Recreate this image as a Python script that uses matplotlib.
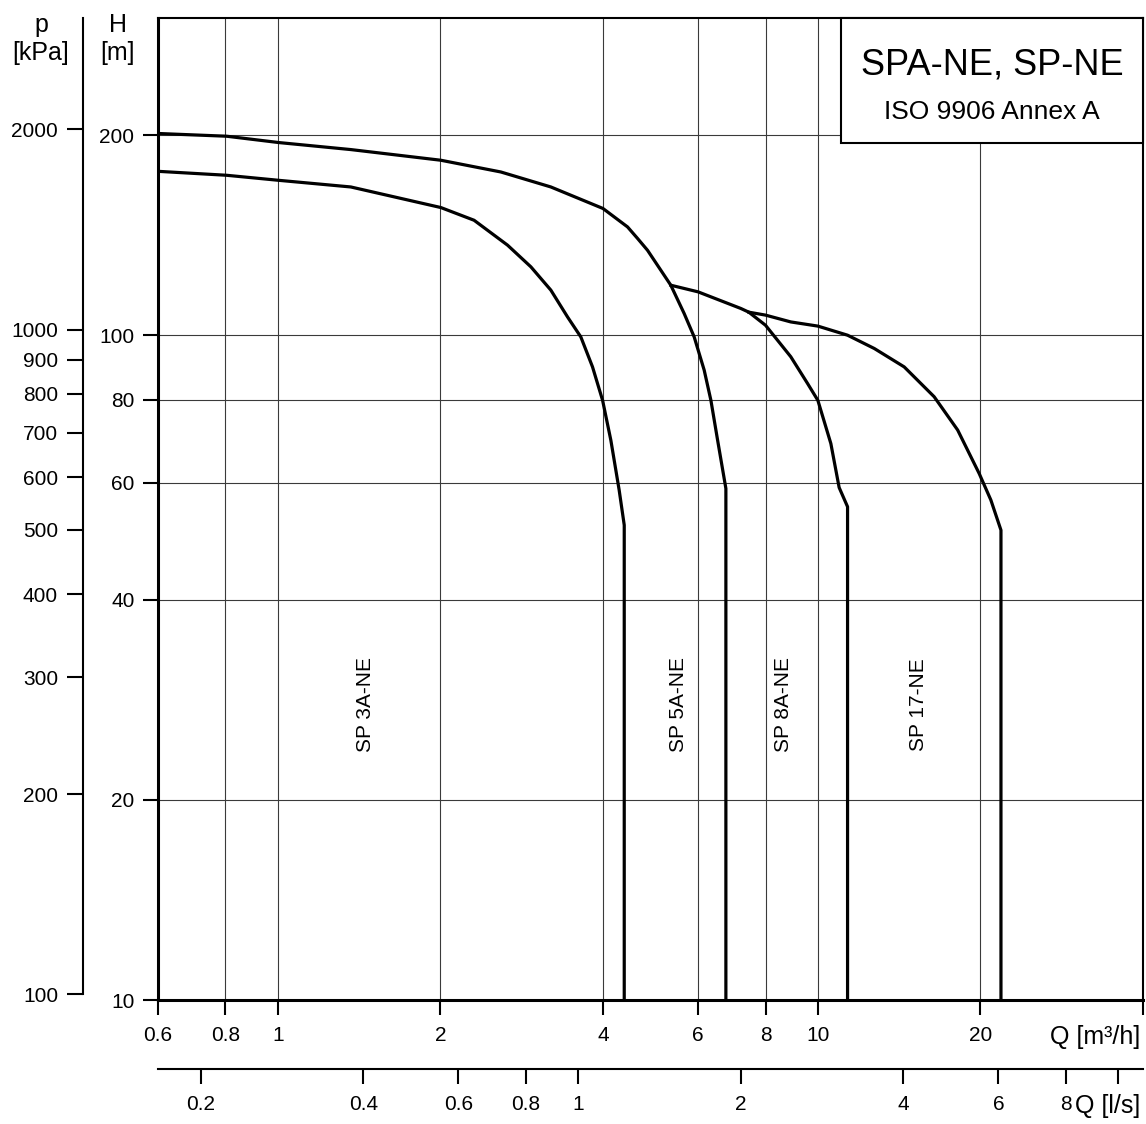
import numpy as np
import matplotlib.pyplot as plt
from matplotlib.patches import Rectangle
from matplotlib.ticker import NullLocator

plt.rcParams['font.family'] = ['Liberation Sans', 'DejaVu Sans']

# curvas: Q em m3/h, H em m
q_3a = [0.6, 0.804, 1.003, 1.365, 2.004, 2.309, 2.663, 2.942, 3.203, 3.44, 3.64, 3.826, 3.994, 4.137, 4.286, 4.38, 4.38]
h_3a = [176.4, 174.0, 171.0, 167.1, 155.6, 148.9, 136.6, 126.7, 116.9, 106.5, 99.4, 89.6, 79.8, 69.5, 58.5, 51.8, 10]

q_5a = [0.6, 0.804, 1.003, 1.365, 2.004, 2.588, 3.203, 4.0, 4.442, 4.636, 4.837, 5.342, 5.655, 5.902, 6.159, 6.338, 6.522, 6.756, 6.756]
h_5a = [201.1, 199.2, 194.9, 190.2, 183.3, 176.0, 167.1, 155.1, 145.5, 139.8, 134.2, 118.9, 107.8, 99.4, 88.6, 79.8, 69.5, 58.8, 10]

q_8a = [5.342, 6.0, 7.2, 7.45, 8.0, 8.91, 9.57, 10.0, 10.57, 10.95, 11.35, 11.35]
h_8a = [118.9, 116.2, 109.7, 108.3, 103.5, 92.8, 84.6, 79.8, 68.7, 59.0, 55.2, 10]

q_17 = [7.45, 8.0, 8.91, 10.0, 11.35, 12.72, 14.45, 16.42, 18.15, 19.9, 20.91, 21.83, 21.83]
h_17 = [108.3, 107.2, 104.7, 103.2, 100.0, 95.5, 89.6, 80.8, 72.0, 61.9, 56.5, 50.9, 10]

curvas = [(q_3a, h_3a), (q_5a, h_5a), (q_8a, h_8a), (q_17, h_17)]
nomes = ['SP 3A-NE', 'SP 5A-NE', 'SP 8A-NE', 'SP 17-NE']
pos_nomes_q = [1.456, 5.51, 8.64, 15.38]
pos_nomes_h = 27.8

# eixos
q_ticks = [0.6, 0.8, 1, 2, 4, 6, 8, 10, 20, 40]
q_labels = ['0.6', '0.8', '1', '2', '4', '6', '8', '10', '20', '']
h_ticks = [10, 20, 40, 60, 80, 100, 200]
p_ticks = [100, 200, 300, 400, 500, 600, 700, 800, 900, 1000, 2000]
ls_ticks = [0.2, 0.4, 0.6, 0.8, 1, 2, 4, 6, 8, 10]
ls_labels = ['0.2', '0.4', '0.6', '0.8', '1', '2', '4', '6', '8', '']
grid_q = [0.8, 1, 2, 4, 6, 8, 10, 20]
grid_h = [20, 40, 60, 80, 100, 200]

W, H = 1146, 1124
fig = plt.figure(figsize=(W / 100, H / 100), dpi=100)
ax = fig.add_axes([158 / W, 1 - 1000 / H, 985 / W, 982 / H])
ax.set_xscale('log')
ax.set_yscale('log')
ax.set_xlim(0.6, 40)
ax.set_ylim(10, 300)

for g in grid_q:
    ax.axvline(g, color='#3a3a3a', lw=0.8, zorder=1)
for g in grid_h:
    ax.axhline(g, color='#3a3a3a', lw=0.8, zorder=1)

for (q, h) in curvas:
    ax.plot(q, h, color='black', lw=2.3, solid_joinstyle='round', zorder=4)

for nome, qn in zip(nomes, pos_nomes_q):
    ax.text(qn, pos_nomes_h, nome, rotation=90, ha='center', va='center', fontsize=15)

ax.xaxis.set_minor_locator(NullLocator())
ax.yaxis.set_minor_locator(NullLocator())
ax.set_xticks(q_ticks, labels=q_labels)
ax.set_yticks(h_ticks, labels=[str(t) for t in h_ticks])
ax.tick_params(axis='x', direction='out', length=11, width=1.5, pad=8, labelsize=15)
ax.tick_params(axis='y', direction='out', length=11, width=1.5, pad=6, labelsize=15)
for s in ['left', 'bottom']:
    ax.spines[s].set_linewidth(2.2)
for s in ['top', 'right']:
    ax.spines[s].set_linewidth(1.5)

# eixo de pressao
def h_para_p(h):
    return np.asarray(h) * 9.80665

def p_para_h(p):
    return np.asarray(p) / 9.80665

ax_p = ax.secondary_yaxis(-75 / 985, functions=(h_para_p, p_para_h))
ax_p.set_ticks(p_ticks, labels=[str(t) for t in p_ticks])
ax_p.yaxis.set_minor_locator(NullLocator())
ax_p.tick_params(direction='out', length=11.5, width=1.5, pad=6.5, labelsize=15)
ax_p.spines['left'].set_linewidth(1.5)
ax_p.spines['left'].set_bounds(100, 2942)

# eixo em l/s
def m3h_para_ls(q):
    return np.asarray(q) / 3.6

def ls_para_m3h(q):
    return np.asarray(q) * 3.6

ax_ls = ax.secondary_xaxis(-69 / 982, functions=(m3h_para_ls, ls_para_m3h))
ax_ls.set_ticks(ls_ticks, labels=ls_labels)
ax_ls.xaxis.set_minor_locator(NullLocator())
ax_ls.tick_params(direction='out', length=11, width=1.5, pad=8, labelsize=15)
ax_ls.spines['bottom'].set_linewidth(1.5)

ax.text(0.997, -37 / 982, 'Q [m³/h]', transform=ax.transAxes, ha='right', va='center', fontsize=18)
ax.text(0.997, -106 / 982, 'Q [l/s]', transform=ax.transAxes, ha='right', va='center', fontsize=18)

fig.text(41 / W, 1 - 13 / H, 'p\n[kPa]', ha='center', va='top', fontsize=18, linespacing=1.2)
fig.text(118 / W, 1 - 13 / H, 'H\n[m]', ha='center', va='top', fontsize=18, linespacing=1.2)

# caixa do titulo
x0 = (841 - 158) / 985
y0 = (1000 - 143) / 982
ax.add_patch(Rectangle((x0, y0), 1 - x0, 1 - y0, transform=ax.transAxes,
                       facecolor='white', edgecolor='black', lw=1.5, zorder=5, clip_on=False))
xc = (x0 + 1) / 2
ax.text(xc, (1000 - 65) / 982, 'SPA-NE, SP-NE', transform=ax.transAxes,
        ha='center', va='center', fontsize=26, zorder=6)
ax.text(xc, (1000 - 112) / 982, 'ISO 9906 Annex A', transform=ax.transAxes,
        ha='center', va='center', fontsize=19, zorder=6)

fig.savefig('out.png', dpi=100)
